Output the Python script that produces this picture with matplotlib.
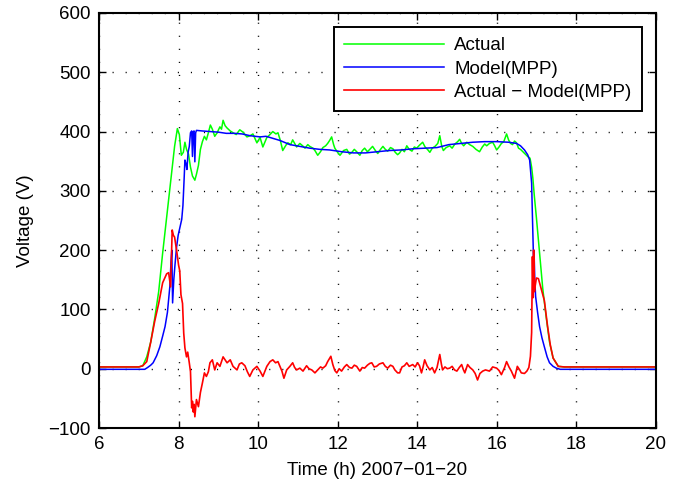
import matplotlib
matplotlib.use("Agg")
import matplotlib.pyplot as plt

plt.rcParams['font.family'] = ['Liberation Sans', 'DejaVu Sans']

# Actual (green)
green_t = [6.0, 7.0, 7.1, 7.2, 7.3, 7.4, 7.5, 7.6, 7.7, 7.8, 7.9, 7.97, 8.02, 8.07, 8.12, 8.16, 8.2,
           8.25, 8.3, 8.35, 8.41, 8.45, 8.5, 8.55, 8.6, 8.65, 8.7, 8.75, 8.8, 8.85, 8.91, 8.97, 9.04,
           9.08, 9.12, 9.17, 9.22, 9.3, 9.37, 9.45, 9.54, 9.62, 9.72, 9.8, 9.87, 9.97, 10.05, 10.12,
           10.22, 10.3, 10.37, 10.45, 10.5, 10.56, 10.62, 10.7, 10.75, 10.82, 10.87, 10.92, 10.97,
           11.05, 11.12, 11.18, 11.25, 11.3, 11.38, 11.43, 11.5, 11.57, 11.63, 11.7, 11.75, 11.8,
           11.85, 11.9, 11.93, 12.0, 12.06, 12.15, 12.23, 12.3, 12.36, 12.42, 12.48, 12.56, 12.62,
           12.68, 12.75, 12.81, 12.88, 12.95, 13.01, 13.08, 13.14, 13.2, 13.26, 13.33, 13.39, 13.45,
           13.51, 13.56, 13.62, 13.68, 13.74, 13.8, 13.87, 13.93, 13.99, 14.06, 14.14, 14.2, 14.26,
           14.32, 14.38, 14.45, 14.52, 14.57, 14.62, 14.66, 14.73, 14.82, 14.88, 14.95, 15.02, 15.07,
           15.12, 15.17, 15.25, 15.32, 15.4, 15.48, 15.57, 15.64, 15.7, 15.75, 15.82, 15.9, 15.95,
           16.0, 16.06, 16.12, 16.18, 16.25, 16.3, 16.35, 16.4, 16.45, 16.5, 16.55, 16.6, 16.66,
           16.72, 16.78, 16.84, 16.88, 16.91, 16.95, 17.0, 17.08, 17.16, 17.25, 17.33, 17.42, 17.55,
           17.7, 20.0]
green_v = [3, 3, 5, 20, 45, 85, 130, 195, 255, 315, 375, 405, 395, 360, 365, 382, 370,
           362, 340, 325, 318, 328, 343, 370, 383, 392, 386, 398, 411, 404, 392, 398, 408,
           404, 419, 410, 406, 401, 398, 395, 403, 399, 391, 393, 396, 381, 390, 374,
           390, 395, 400, 396, 398, 385, 368, 377, 381, 378, 386, 380, 374,
           380, 376, 372, 378, 375, 372, 368, 360, 366, 373, 376, 380, 385,
           391, 378, 372, 365, 360, 368, 370, 362, 365, 370, 366, 360, 368,
           372, 366, 370, 375, 368, 363, 370, 375, 370, 367, 373, 371, 365,
           361, 364, 370, 366, 376, 370, 367, 374, 372, 377, 382, 374, 370,
           365, 372, 375, 380, 393, 375, 368, 373, 376, 372, 379, 383, 387,
           380, 376, 382, 378, 375, 370, 366, 374, 379, 376, 380, 382, 376,
           369, 374, 380, 383, 396, 386, 380, 378, 384, 381, 372, 370, 366,
           362, 358, 355, 340, 322, 290, 255, 195, 135, 85, 45, 18, 4,
           3, 3]

# Model(MPP) (blue)
blue_t = [6.0, 7.15, 7.22, 7.3, 7.36, 7.45, 7.53, 7.6, 7.66, 7.72, 7.78, 7.81, 7.83, 7.85, 7.88,
          7.91, 7.95, 7.99, 8.04, 8.08, 8.11, 8.14, 8.16, 8.19, 8.21, 8.24, 8.27, 8.3, 8.33, 8.35,
          8.37, 8.39, 8.41, 8.43, 8.45, 8.6, 8.8, 9.0, 9.2, 9.4, 9.6, 9.8, 10.05, 10.2, 10.35,
          10.55, 10.8, 11.05, 11.3, 11.55, 11.8, 12.1, 12.4, 12.7, 13.0, 13.3, 13.6, 13.9, 14.2,
          14.5, 14.8, 15.1, 15.4, 15.7, 16.0, 16.3, 16.5, 16.6, 16.7, 16.78, 16.83, 16.88, 16.9,
          16.92, 16.93, 16.94, 16.96, 16.98, 17.03, 17.08, 17.14, 17.2, 17.27, 17.33, 17.42, 17.5,
          17.6, 20.0]
blue_v = [-1, -1, 2, 6, 10, 22, 37, 55, 71, 95, 138, 180, 200, 111, 150,
          175, 205, 225, 240, 252, 275, 320, 352, 345, 336, 365, 375, 398, 401, 358,
          400, 401, 349, 398, 402, 401, 400, 399, 397, 397, 396, 393, 391, 392, 389,
          385, 378, 375, 372, 370, 369, 366, 364, 364, 366, 368, 369, 371, 372,
          373, 378, 380, 382, 383, 383, 382, 380, 376, 369, 361, 352, 313, 257,
          205, 170, 200, 150, 122, 95, 71, 52, 37, 20, 10, 4, 1,
          -1, -1]

# Actual - Model(MPP) (red)
red_t = [6.0, 7.0, 7.1, 7.2, 7.3, 7.4, 7.5, 7.6, 7.7, 7.75, 7.8, 7.84, 7.87, 7.9, 7.95, 8.0, 8.03,
         8.06, 8.1, 8.13, 8.16, 8.2, 8.23, 8.27, 8.3, 8.33, 8.35, 8.37, 8.39, 8.41, 8.45, 8.5, 8.55,
         8.6, 8.65, 8.7, 8.75, 8.79, 8.85, 8.91, 8.97, 9.04, 9.12, 9.22, 9.3, 9.37, 9.47, 9.53,
         9.59, 9.67, 9.73, 9.79, 9.87, 9.97, 10.05, 10.12, 10.22, 10.3, 10.37, 10.44, 10.5, 10.6,
         10.65, 10.72, 10.8, 10.87, 10.92, 10.97, 11.05, 11.13, 11.22, 11.28, 11.35, 11.43, 11.5,
         11.57, 11.63, 11.7, 11.75, 11.83, 11.88, 11.93, 11.98, 12.04, 12.1, 12.17, 12.23, 12.3,
         12.36, 12.42, 12.48, 12.56, 12.62, 12.68, 12.75, 12.81, 12.86, 12.92, 12.98, 13.05, 13.14,
         13.2, 13.26, 13.33, 13.39, 13.44, 13.51, 13.56, 13.62, 13.68, 13.74, 13.8, 13.89, 13.95,
         14.01, 14.06, 14.11, 14.15, 14.19, 14.25, 14.32, 14.38, 14.44, 14.5, 14.57, 14.61, 14.64,
         14.7, 14.76, 14.82, 14.88, 14.94, 15.0, 15.06, 15.12, 15.16, 15.2, 15.27, 15.33, 15.4,
         15.46, 15.52, 15.58, 15.65, 15.72, 15.82, 15.9, 16.0, 16.06, 16.12, 16.2, 16.25, 16.31,
         16.37, 16.45, 16.52, 16.58, 16.62, 16.7, 16.76, 16.81, 16.85, 16.88, 16.9, 16.91, 16.92,
         16.93, 16.95, 16.97, 17.0, 17.05, 17.1, 17.2, 17.28, 17.35, 17.42, 17.55, 17.7, 20.0]
red_v = [3, 3, 5, 12, 45, 80, 110, 145, 160, 162, 138, 234, 225, 222, 200, 175, 165,
         125, 110, 60, 35, 20, 28, 10, -5, -66, -55, -73, -60, -81, -52, -64, -40,
         -24, -7, -13, -5, 10, 15, -2, 10, 4, 20, 10, 15, 4, -2, 8,
         10, 5, -5, -13, -2, 4, -4, -13, 4, 12, 15, 10, 12, -4,
         -16, -2, 4, 10, 2, -2, 1, -4, 5, 0, -2, -7, -2,
         3, 1, 5, 12, 21, 7, -3, -7, 0, -4, 3, 7, 2,
         1, 6, 4, -4, 2, 1, 6, 9, 10, 3, 4, 8, 10,
         4, 1, 6, 4, -2, -7, -7, 3, 5, 10, 4, 7, 3,
         10, 5, -7, 3, 15, 5, -2, 2, -7, 2, 24, 8, -2,
         3, 0, 1, 4, -2, -4, 2, 7, -1, -7, 7, 2, -2,
         -8, -19, -8, -4, -2, -4, 3, 1, -3, -10, 2, 12, 3,
         -4, -16, 4, -2, -7, -8, -4, 2, 21, 61, 189, 150, 120,
         200, 130, 140, 153, 152, 140, 115, 72, 40, 18, 4, 3, 3]

x_ticks = [6, 8, 10, 12, 14, 16, 18, 20]
y_ticks = [-100, 0, 100, 200, 300, 400, 500, 600]

fig = plt.figure(figsize=(6.83, 4.9), dpi=100)
ax = fig.add_axes([0.145, 0.1265, 0.815, 0.847])

ax.plot(green_t, green_v, color=(0, 1, 0), lw=1.1, label='Actual')
ax.plot(blue_t, blue_v, color=(0, 0, 1), lw=1.1, label='Model(MPP)')
ax.plot(red_t, red_v, color=(1, 0, 0), lw=1.2, label='Actual \u2212 Model(MPP)')

ax.set_xlim(6, 20)
ax.set_ylim(-100, 600)
ax.set_xticks(x_ticks)
ax.set_yticks(y_ticks)
ax.grid(True, color='black', linestyle=(0, (0.8, 8.6)), linewidth=1.0)
ax.tick_params(direction='in', length=5, width=1, labelsize=13.5, top=True, right=True)
ax.tick_params(axis='x', pad=6)
ax.tick_params(axis='y', pad=6)
for s in ax.spines.values():
    s.set_linewidth(1.5)

ax.set_xlabel('Time (h) 2007\u221201\u221220', fontsize=13.5, labelpad=6)
ax.set_ylabel('Voltage (V)', fontsize=13.5, labelpad=10)

leg = ax.legend(loc='upper right', fontsize=13.5, fancybox=False, framealpha=1,
                edgecolor='black', borderaxespad=0.75, handlelength=5.3,
                handletextpad=0.55, labelspacing=0.32, borderpad=0.55)
leg.get_frame().set_linewidth(1.4)

fig.savefig('out.png', dpi=100)
